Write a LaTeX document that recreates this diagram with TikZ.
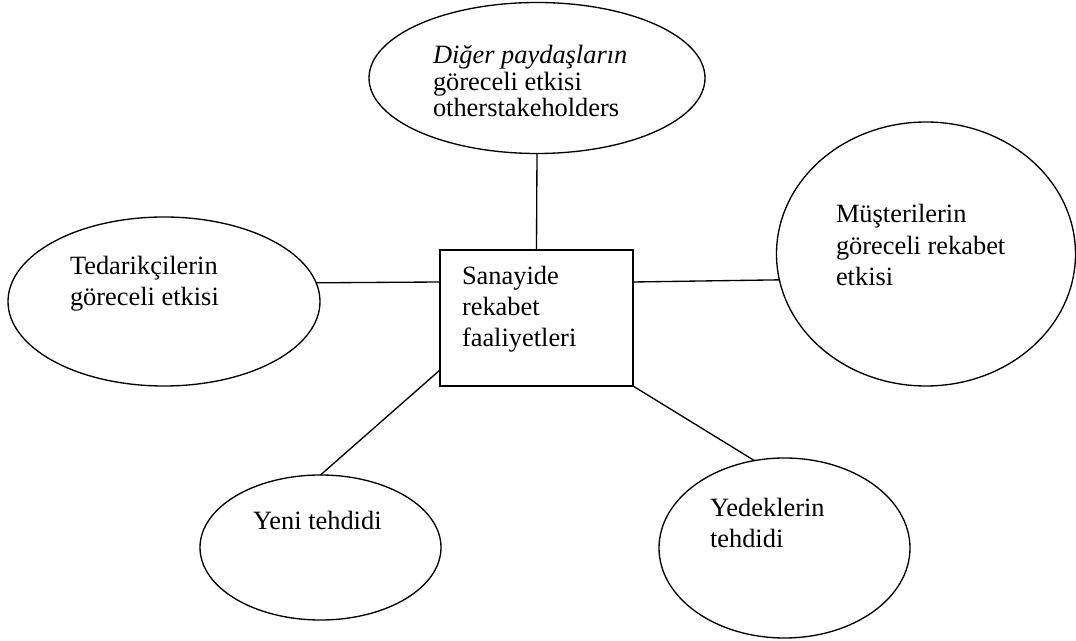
\documentclass[tikz,border=0pt]{standalone}
\usepackage{fontspec}
\setmainfont{Liberation Serif}
\usetikzlibrary{shapes.geometric}
\begin{document}
\begin{tikzpicture}[x=0.75pt,y=-0.75pt,
  ell/.style={draw, ellipse, line width=1pt, inner sep=0pt, outer sep=0pt},
  boxstyle/.style={draw, rectangle, line width=1pt, inner sep=0pt, outer sep=0pt},
  lbl/.style={anchor=base west, inner sep=0pt, outer sep=0pt, font=\fontsize{19.8}{23}\selectfont},
  conn/.style={line width=1pt}]
\fill[white] (0,0) rectangle (1076,641);
\useasboundingbox (0,0) rectangle (1076,641);

% shapes
\node[ell, minimum width=252pt, minimum height=113.25pt] (top) at (537,78) {};
\node[ell, minimum width=224.25pt, minimum height=198pt] (right) at (926,254) {};
\node[ell, minimum width=234pt, minimum height=126.75pt] (left) at (164,301.5) {};
\node[ell, minimum width=180.75pt, minimum height=108.75pt] (bl) at (320.5,547.5) {};
\node[ell, minimum width=188.25pt, minimum height=135pt] (br) at (784.5,548) {};
\node[boxstyle, minimum width=144.75pt, minimum height=102pt] (box) at (536.5,318) {};

% labels
\node[lbl] (t1) at (433,64) {\itshape Diğer paydaşların};
\node[lbl] (t2) at (433,90.5) {göreceli etkisi};
\node[lbl] (t3) at (433,117) {otherstakeholders};

\node[lbl] (l1) at (70,274.5) {Tedarikçilerin};
\node[lbl] (l2) at (70,306) {göreceli etkisi};

\node[lbl] (r1) at (836,223) {Müşterilerin};
\node[lbl] (r2) at (836,255) {göreceli rekabet};
\node[lbl] (r3) at (836,286) {etkisi};

\node[lbl] (b1) at (462,285) {Sanayide};
\node[lbl] (b2) at (462,316) {rekabet};
\node[lbl] (b3) at (462,347) {faaliyetleri};

\node[lbl] (bl1) at (253,530) {Yeni tehdidi};

\node[lbl] (br1) at (710,517) {Yedeklerin};
\node[lbl] (br2) at (710,547.5) {tehdidi};

% connectors
\coordinate (ly) at (0,282);
\draw[conn] (top.south) -- (box.north);
\draw[conn] (box.west |- ly) -- (left.7.3);
\draw[conn] (box.east |- ly) -- (right.190.85);
\draw[conn] ([yshift=12pt]box.south west) -- (bl.north);
\draw[conn] (box.south east) -- (br.109.9);
\end{tikzpicture}
\end{document}
